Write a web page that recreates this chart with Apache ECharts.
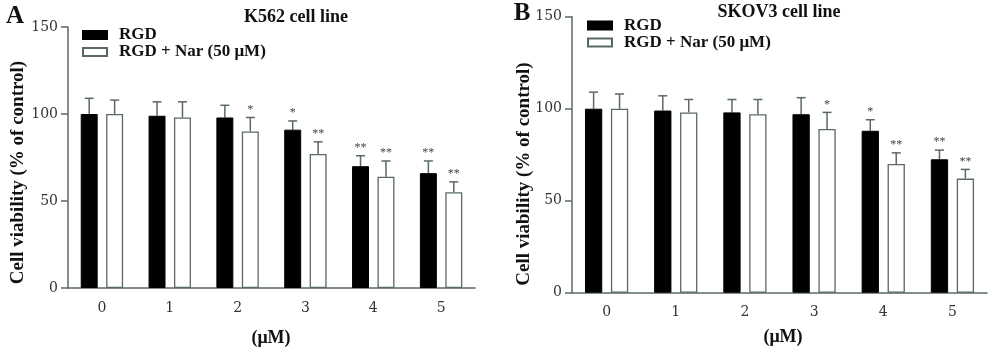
<!DOCTYPE html>
<html>
<head>
<meta charset="utf-8">
<script src="https://cdn.jsdelivr.net/npm/echarts@6/dist/echarts.min.js"></script>
<style>html,body{margin:0;padding:0;background:#fff;}#c{width:1000px;height:351px;}</style>
</head>
<body>
<div id="c"></div>
<script>
const categories = ['0', '1', '2', '3', '4', '5'];
const yTicks = [0, 50, 100, 150];
// Panel A: K562
const rgdA = [100, 99, 98, 91, 70, 66];
const rgdAErr = [9, 8, 7, 5, 6, 7];
const narA = [100, 98, 90, 77, 64, 55];
const narAErr = [8, 9, 8, 7, 9, 6];
const rgdASig = ['', '', '', '*', '**', '**'];
const narASig = ['', '', '*', '**', '**', '**'];
// Panel B: SKOV3
const rgdB = [100, 99, 98, 97, 88, 72.5];
const rgdBErr = [9, 8, 7, 9, 6, 5];
const narB = [100, 98, 97, 89, 70, 62];
const narBErr = [8, 7, 8, 9, 6, 5];
const rgdBSig = ['', '', '', '', '*', '**'];
const narBSig = ['', '', '', '*', '**', '**'];

const SERIF = '"Liberation Serif", "DejaVu Serif", serif';
const TICKFONT = '"DejaVu Serif", "Liberation Serif", serif';
const AX = '#5a6868';
const BAR_RATIO = 0.25;

function errSeries(values, errs, sigs, sign, idx) {
  return {
    type: 'custom', xAxisIndex: idx, yAxisIndex: idx, z: 1, silent: true,
    data: values.map((v, i) => [i, v, errs[i]]),
    encode: { x: 0, y: 1 },
    renderItem: function (params, api) {
      const i = api.value(0), v = api.value(1), e = api.value(2);
      const base = api.coord([i, v]);
      const top = api.coord([i, v + e]);
      const band = api.size([1, 0])[0];
      const bw = band * BAR_RATIO;
      const cx = base[0] + sign * 0.75 * bw;
      const children = [
        { type: 'line', shape: { x1: cx, y1: base[1], x2: cx, y2: top[1] }, style: { stroke: AX, lineWidth: 1.5 } },
        { type: 'line', shape: { x1: cx - 4.5, y1: top[1], x2: cx + 4.5, y2: top[1] }, style: { stroke: AX, lineWidth: 1.5 } }
      ];
      const s = sigs[params.dataIndex];
      if (s) {
        children.push({ type: 'text', style: { text: s, x: cx, y: top[1] - 2, align: 'center', verticalAlign: 'bottom', font: '12px ' + SERIF, fill: '#444' } });
      }
      return { type: 'group', children: children };
    }
  };
}

function barSeries(name, values, idx, dark) {
  return {
    name: name, type: 'bar', xAxisIndex: idx, yAxisIndex: idx, z: 2,
    data: values, barWidth: (BAR_RATIO * 100) + '%', barGap: '50%',
    itemStyle: dark ? { color: '#000', borderColor: '#000', borderWidth: 1 } : { color: '#fff', borderColor: '#5a6868', borderWidth: 1.3 }
  };
}

function xAxis(idx) {
  return {
    type: 'category', gridIndex: idx, data: categories, boundaryGap: true,
    axisLine: { lineStyle: { color: AX, width: 1.5 } },
    axisTick: { alignWithLabel: true, length: 6, lineStyle: { color: AX, width: 1.5 } },
    axisLabel: { margin: 13, fontFamily: TICKFONT, fontSize: 14, color: '#333' }
  };
}
function yAxis(idx) {
  return {
    type: 'value', gridIndex: idx, min: 0, max: 150, interval: 50,
    axisLine: { show: true, lineStyle: { color: AX, width: 1.5 } },
    axisTick: { show: true, length: 7, lineStyle: { color: AX, width: 1.5 } },
    axisLabel: { margin: 10, fontFamily: TICKFONT, fontSize: 14, color: '#333',
      formatter: v => yTicks.indexOf(v) >= 0 ? String(v) : '' },
    splitLine: { show: false }
  };
}

function legend(left, top) {
  return {
    left: left, top: top, orient: 'vertical', itemWidth: 24, itemHeight: 8, itemGap: 0,
    padding: 0, icon: 'rect', selectedMode: false,
    textStyle: { fontFamily: SERIF, fontWeight: 'bold', fontSize: 17, color: '#111', lineHeight: 13, padding: [0, 0, 0, 7] },
    data: ['RGD', 'RGD + Nar (50 μM)']
  };
}

function txt(text, x, y, size) {
  return { type: 'text', x: x, y: y, style: { text: text, font: 'bold ' + size + 'px ' + SERIF, fill: '#111', align: 'center', verticalAlign: 'middle' } };
}
function ylab(x, y) {
  return { type: 'text', x: x, y: y, rotation: Math.PI / 2, style: { text: 'Cell viability (% of control)', font: 'bold 19px ' + SERIF, fill: '#111', align: 'center', verticalAlign: 'middle' } };
}

const chart = echarts.init(document.getElementById('c'), null, { renderer: 'canvas' });
chart.setOption({
  animation: false,
  backgroundColor: '#fff',
  grid: [
    { left: 68, top: 27, width: 407, height: 261 },
    { left: 572, top: 16.7, width: 415, height: 276 }
  ],
  legend: [legend(82, 26.5), legend(587, 17)],
  xAxis: [xAxis(0), xAxis(1)],
  yAxis: [yAxis(0), yAxis(1)],
  series: [
    barSeries('RGD', rgdA, 0, true),
    barSeries('RGD + Nar (50 μM)', narA, 0, false),
    errSeries(rgdA, rgdAErr, rgdASig, -1, 0),
    errSeries(narA, narAErr, narASig, 1, 0),
    barSeries('RGD', rgdB, 1, true),
    barSeries('RGD + Nar (50 μM)', narB, 1, false),
    errSeries(rgdB, rgdBErr, rgdBSig, -1, 1),
    errSeries(narB, narBErr, narBSig, 1, 1)
  ],
  graphic: [
    txt('A', 15, 17, 25),
    txt('B', 522, 14, 25),
    txt('K562 cell line', 296, 17, 18),
    txt('SKOV3 cell line', 779, 12, 18),
    ylab(18.5, 172.5),
    ylab(524.5, 174),
    txt('(μM)', 271, 338, 18),
    txt('(μM)', 783, 337, 18)
  ]
});
</script>
</body>
</html>
